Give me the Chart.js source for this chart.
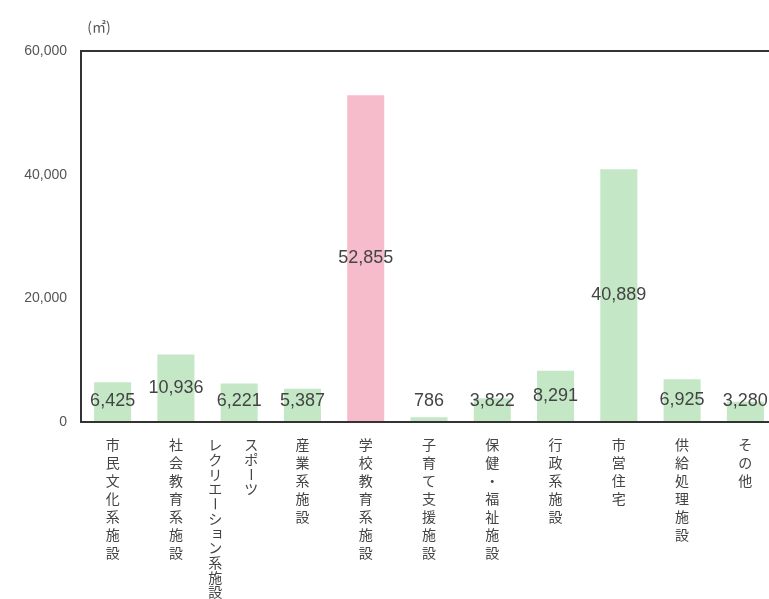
<!DOCTYPE html>
<html lang="ja">
<head>
<meta charset="utf-8">
<script src="https://cdn.jsdelivr.net/npm/chart.js@4"></script>
<style>
  html, body { margin: 0; padding: 0; background: #fff; overflow: hidden; }
  #wrap { width: 800px; height: 599px; }
</style>
</head>
<body>
<div id="wrap"><canvas id="area" width="800" height="599"></canvas></div>
<script>
// 施設分類ごとの延床面積（㎡）
const categories = [
  '市民文化系施設', '社会教育系施設', 'スポーツ・レクリエーション系施設', '産業系施設',
  '学校教育系施設', '子育て支援施設', '保健・福祉施設', '行政系施設',
  '市営住宅', '供給処理施設', 'その他'
];
// 縦書きの列（右の列から順に）
const labelColumns = [
  ['市民文化系施設'], ['社会教育系施設'], ['スポーツ', 'レクリエーション系施設'], ['産業系施設'],
  ['学校教育系施設'], ['子育て支援施設'], ['保健・福祉施設'], ['行政系施設'],
  ['市営住宅'], ['供給処理施設'], ['その他']
];
const areas = [6425, 10936, 6221, 5387, 52855, 786, 3822, 8291, 40889, 6925, 3280];
const yTicks = [0, 20000, 40000, 60000];
const unitLabel = '(㎡)';

const GREEN = '#c4e7c6';
const PINK = '#f6bccb';
const barColors = categories.map(c => c === '学校教育系施設' ? PINK : GREEN);
const fmt = v => v.toLocaleString('en-US');

// ── 棒の中の数値 ─────────────────────────────
const valueLabels = {
  id: 'valueLabels',
  afterDatasetsDraw(chart) {
    const { ctx } = chart;
    const meta = chart.getDatasetMeta(0);
    ctx.save();
    ctx.font = '18px "Liberation Sans", Arial, sans-serif';
    ctx.fillStyle = '#444';
    ctx.textAlign = 'center';
    ctx.textBaseline = 'middle';
    meta.data.forEach((bar, i) => {
      const y = Math.min((bar.y + bar.base) / 2, bar.base - 20);
      ctx.fillText(fmt(areas[i]), bar.x, y);
    });
    ctx.restore();
  }
};

// ── 縦書きのカテゴリ名と単位 ─────────────────
const verticalLabels = {
  id: 'verticalLabels',
  afterDraw(chart) {
    const { ctx, scales: { x }, chartArea } = chart;
    ctx.save();
    ctx.font = '14px "Noto Sans CJK JP", sans-serif';
    ctx.fillStyle = '#444';
    ctx.textAlign = 'center';
    ctx.textBaseline = 'middle';
    labelColumns.forEach((cols, i) => {
      const cx = x.getPixelForValue(i);
      cols.forEach((text, c) => {
        const colX = cols.length > 1 ? cx + 12 - c * 36 : cx;
        const step = /[ァ-ヶ]/.test(text) ? 14.7 : 18;
        let y = chartArea.bottom + 23;
        for (const ch of text) {
          if (ch === 'ー') {
            ctx.save();
            ctx.translate(colX, y);
            ctx.rotate(Math.PI / 2);
            ctx.fillText(ch, 0, 0);
            ctx.restore();
          } else if ('ョッ'.includes(ch)) {
            ctx.fillText(ch, colX + 2, y - 2);
          } else {
            ctx.fillText(ch, colX, y);
          }
          y += step;
        }
      });
    });
    ctx.font = '14px "Noto Sans CJK JP", sans-serif';
    ctx.fillStyle = '#555';
    ctx.fillText(unitLabel, chartArea.left + 18, 27);
    ctx.restore();
  }
};

new Chart(document.getElementById('area'), {
  type: 'bar',
  data: {
    labels: categories,
    datasets: [{
      data: areas,
      backgroundColor: barColors,
      borderWidth: 0,
      categoryPercentage: 1,
      barPercentage: 0.585
    }]
  },
  options: {
    responsive: false,
    animation: false,
    layout: { padding: { top: 51, bottom: 177, left: 0, right: 23 } },
    plugins: { legend: { display: false }, tooltip: { enabled: false } },
    scales: {
      x: {
        grid: { display: false },
        border: { display: true, color: '#333', width: 2 },
        ticks: { display: false },
        afterFit: s => { s.height = 0; }
      },
      y: {
        min: 0,
        max: 60000,
        afterBuildTicks: s => { s.ticks = yTicks.map(v => ({ value: v })); },
        grid: {
          drawTicks: false,
          color: c => c.tick && c.tick.value === 60000 ? '#333' : 'rgba(0,0,0,0)',
          lineWidth: 2
        },
        border: { display: true, color: '#333', width: 2 },
        ticks: {
          padding: 14,
          color: '#555',
          font: { family: '"Liberation Sans", Arial, sans-serif', size: 14 },
          callback: v => fmt(v)
        },
        afterFit: s => { s.width = 81; }
      }
    }
  },
  plugins: [valueLabels, verticalLabels]
});
</script>
</body>
</html>
